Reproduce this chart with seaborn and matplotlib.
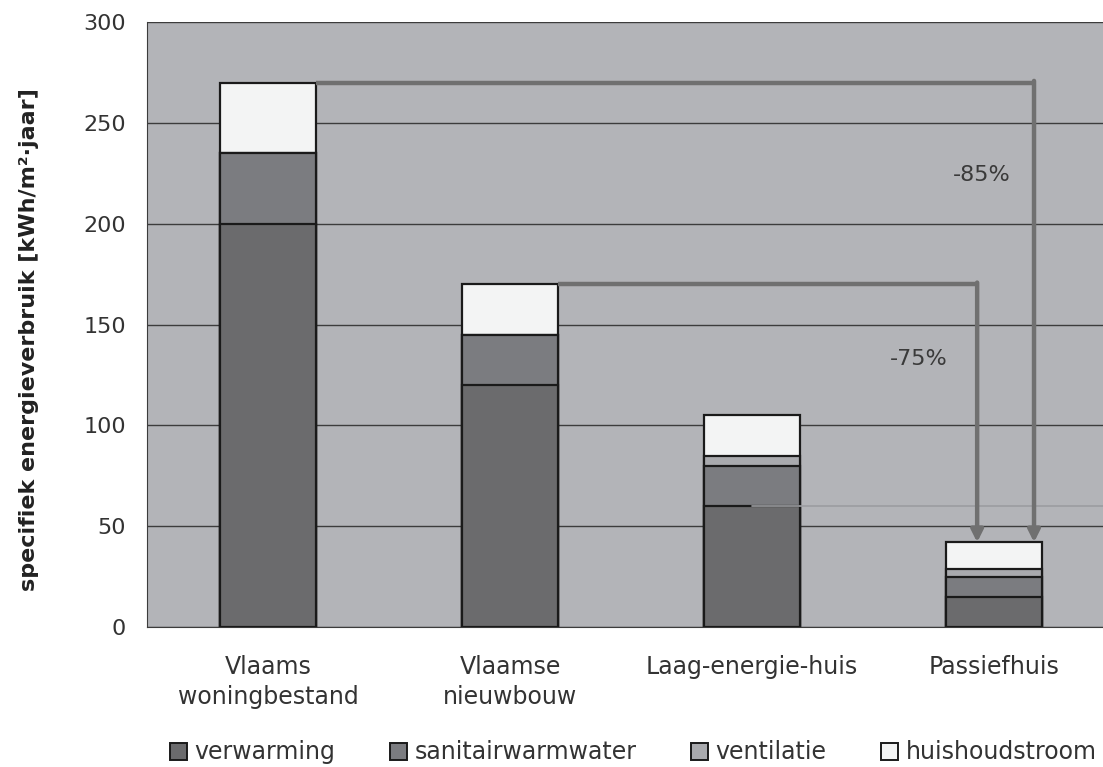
import matplotlib
matplotlib.use("Agg")
import matplotlib.pyplot as plt
import matplotlib.patches as mpatches
import numpy as np
import pandas as pd
import seaborn as sns

# =========================
# DATA
# =========================
categories = ["Vlaams\nwoningbestand", "Vlaamse\nnieuwbouw", "Laag-energie-huis", "Passiefhuis"]
verwarming = [200, 120, 60, 15]
sanitairwarmwater = [35, 25, 20, 10]
ventilatie = [0, 0, 5, 4]
huishoudstroom = [35, 25, 20, 13]
series_names = ["verwarming", "sanitairwarmwater", "ventilatie", "huishoudstroom"]
reductions = ["-85%", "-75%"]
yticks = [0, 50, 100, 150, 200, 250, 300]

colors = ["#6b6b6d", "#7b7c80", "#a9aaae", "#f3f4f4"]
bg = "#b3b4b8"

# cumulative stacks, drawn from the top one down
stack = np.cumsum(np.array([verwarming, sanitairwarmwater, ventilatie, huishoudstroom]), axis=0)
df = pd.DataFrame({"cat": categories})

sns.set_style("white")
plt.rcParams["font.family"] = ["DejaVu Sans"]

fig = plt.figure(figsize=(11.03, 7.67), dpi=100)
ax = fig.add_axes([0.1333, 0.1825, 0.8667, 0.7888])
ax.set_facecolor(bg)

for i in range(3, -1, -1):
    df["v"] = stack[i]
    sns.barplot(data=df, x="cat", y="v", color=colors[i], width=0.4,
                edgecolor="#1a1a1a", linewidth=1.6, saturation=1, ax=ax, zorder=3)

ax.set_ylim(0, 300)
ax.set_xlim(-0.5, 3.45)
ax.set_yticks(yticks)
ax.yaxis.grid(True, color="#3c3c3c", linewidth=1.0, zorder=0)
ax.set_axisbelow(True)

# faint line at top of verwarming (Laag-energie-huis)
ax.plot([2.0, 3.45], [verwarming[2], verwarming[2]], color="#9c9da1", lw=1.2, zorder=4)

# =========================
# REDUCTION ARROWS
# =========================
arrow_col = "#707070"
starts = [(0.2, stack[3][0], 3.165), (1.2, stack[3][1], 2.93)]
label_pos = [(2.95, 224), (2.69, 133)]
for (x0, y0, xa), lab, (tx, ty) in zip(starts, reductions, label_pos):
    ax.plot([x0, xa], [y0, y0], color=arrow_col, lw=3.2, zorder=5, solid_capstyle="butt")
    ax.annotate("", xy=(xa, stack[3][3]), xytext=(xa, y0 + 0.8),
                arrowprops=dict(arrowstyle="-|>,head_length=0.7,head_width=0.35",
                                color=arrow_col, lw=3.2, shrinkA=0, shrinkB=0),
                zorder=5)
    ax.text(tx, ty, lab, fontsize=16, color="#3a3a3a", ha="center", va="center", zorder=6)

sns.despine(ax=ax, top=True, right=True)
ax.spines["left"].set_color("#3c3c3c")
ax.spines["bottom"].set_color("#3c3c3c")
ax.set_xticks([0, 1, 2, 3])
ax.set_xticklabels(categories, fontsize=17, color="#333333", linespacing=1.35)
ax.tick_params(axis="x", length=0, pad=20)
ax.set_xticks([-0.5, 0.5, 1.5, 2.5], minor=True)
ax.tick_params(axis="x", which="minor", length=9, color="#3c3c3c", direction="out")
ax.tick_params(axis="y", length=7, color="#3c3c3c", direction="out", labelsize=16,
               labelcolor="#333333", pad=8)
ax.set_xlabel("")
ax.set_ylabel("specifiek energieverbruik [kWh/m²·jaar]", fontsize=16, fontweight="bold",
              color="#222222")
ax.yaxis.set_label_coords(-0.113, 0.475)

handles = [mpatches.Patch(facecolor=c, edgecolor="#1a1a1a", linewidth=1.4) for c in colors]
fig.legend(handles, series_names, loc="center", bbox_to_anchor=(0.574, 0.019), ncol=4,
           frameon=False, fontsize=17, handlelength=0.72, handleheight=0.72,
           handletextpad=0.33, columnspacing=2.3, labelcolor="#333333",
           borderpad=0, borderaxespad=0)

fig.savefig("out.png", dpi=100)
